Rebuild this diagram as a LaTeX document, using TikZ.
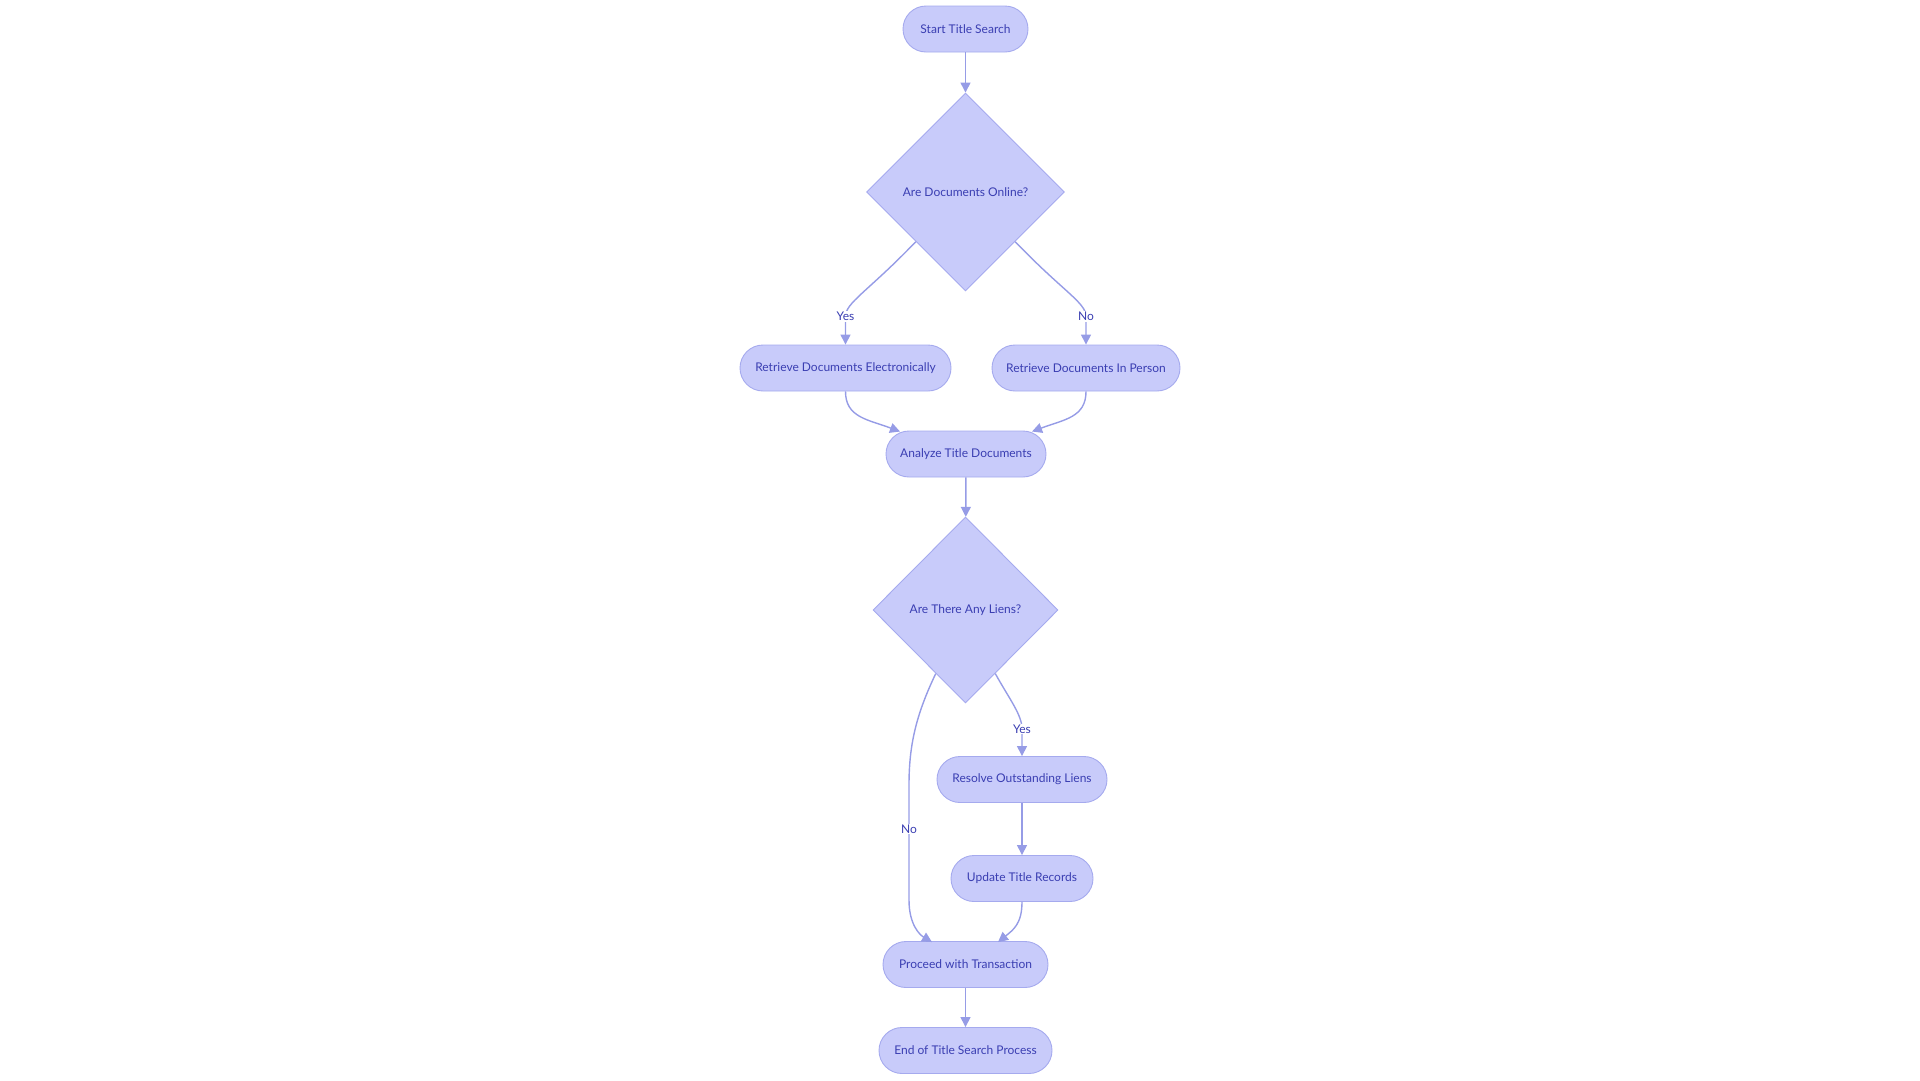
\documentclass[tikz,border=0pt]{standalone}
\usepackage{fontspec}
\setmainfont{Lato}
\usetikzlibrary{shapes.geometric,arrows.meta,calc}
\definecolor{nodefill}{RGB}{200,203,250}
\definecolor{nodeline}{RGB}{165,170,238}
\definecolor{nodetext}{RGB}{58,62,178}
\definecolor{edgecol}{RGB}{150,156,230}
\tikzset{
  proc/.style={draw=nodeline, fill=nodefill, line width=0.9pt, rounded corners=23pt,
    minimum height=46pt, inner sep=0pt, text=nodetext, font=\fontsize{12}{14}\selectfont},
  decision/.style={draw=nodeline, fill=nodefill, line width=0.9pt, diamond, aspect=1,
    inner sep=0pt, text=nodetext, font=\fontsize{12}{14}\selectfont},
  edge/.style={draw=edgecol, line width=1.4pt, -{Triangle[length=10pt,width=10pt]}},
  elabel/.style={fill=white, inner sep=1pt, text=nodetext, font=\fontsize{12}{14}\selectfont}
}
\begin{document}
\begin{tikzpicture}[x=1pt,y=-1pt]
\useasboundingbox (0,0) rectangle (1920,1080);
\node[proc, minimum width=125pt] (start) at (965.5,29) {Start Title Search};
\node[decision, minimum width=198pt, minimum height=198pt] (d1) at (965.5,192) {Are Documents Online?};
\node[proc, minimum width=211pt] (elec) at (845.5,368) {Retrieve Documents Electronically};
\node[proc, minimum width=188pt] (pers) at (1086,368) {Retrieve Documents In Person};
\node[proc, minimum width=160pt] (an) at (966,454) {Analyze Title Documents};
\node[decision, minimum width=185pt, minimum height=186pt] (d2) at (965.5,610) {Are There Any Liens?};
\node[proc, minimum width=170pt] (res) at (1022,779.5) {Resolve Outstanding Liens};
\node[proc, minimum width=142pt] (upd) at (1022,878.5) {Update Title Records};
\node[proc, minimum width=165pt] (pro) at (965.5,964.5) {Proceed with Transaction};
\node[proc, minimum width=173pt] (fin) at (965.5,1050.5) {End of Title Search Process};

\draw[edge] (start) -- (d1);
\draw[edge] (d1.south west) .. controls +(-48,50) and +(0,-14) .. ([yshift=28pt]elec.north)
  node[elabel] {Yes} -- (elec.north);
\draw[edge] (d1.south east) .. controls +(48,50) and +(0,-14) .. ([yshift=28pt]pers.north)
  node[elabel] {No} -- (pers.north);
\draw[edge] (elec.south) .. controls +(0,26) and +(-32,-12) .. ([xshift=-66pt,yshift=-1pt]an.north);
\draw[edge] (pers.south) .. controls +(0,26) and +(32,-12) .. ([xshift=66pt,yshift=-1pt]an.north);
\draw[edge] (an) -- (d2);
\draw[edge] ($(d2.west)!0.68!(d2.south)$) .. controls (916,715) and (909,745) .. (909,785)
  -- (909,829) node[elabel] {No} -- (909,900) .. controls (909,925) and (920,935) .. ([xshift=-33.5pt,yshift=-1pt]pro.north);
\draw[edge] ($(d2.east)!0.68!(d2.south)$) .. controls (1010,700) and (1022,715) .. ([yshift=27pt]res.north)
  node[elabel] {Yes} -- (res.north);
\draw[edge] (res) -- (upd);
\draw[edge] (upd.south) .. controls +(0,22) and +(15,-12) .. ([xshift=32.5pt,yshift=-1pt]pro.north);
\draw[edge] (pro) -- (fin);
\end{tikzpicture}
\end{document}
